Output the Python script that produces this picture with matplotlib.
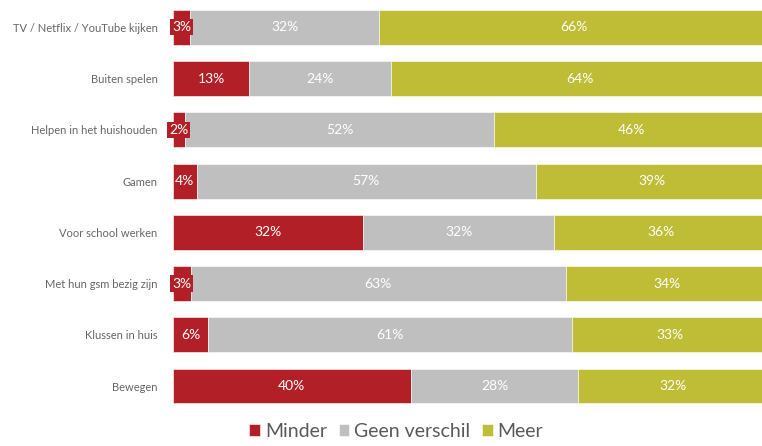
import matplotlib.pyplot as plt
import numpy as np

# data (percentages, top to bottom)
categories = ["TV / Netflix / YouTube kijken", "Buiten spelen", "Helpen in het huishouden",
              "Gamen", "Voor school werken", "Met hun gsm bezig zijn", "Klussen in huis", "Bewegen"]
minder = [3, 13, 2, 4, 32, 3, 6, 40]
geen_verschil = [32, 24, 52, 57, 32, 63, 61, 28]
meer = [66, 64, 46, 39, 36, 34, 33, 32]

series_names = ["Minder", "Geen verschil", "Meer"]
colors = ["#b31f27", "#bfbfbf", "#bfbd35"]

plt.rcParams['font.family'] = ['Lato', 'DejaVu Sans']

fig = plt.figure(figsize=(7.62, 4.46), dpi=100)
# 100% axis runs a little past the right edge of the picture, like the original
ax = fig.add_axes([0.2266, 0.077, 0.782, 0.919])

data = np.array([minder, geen_verschil, meer], dtype=float)
shares = data / data.sum(axis=0) * 100   # 100% stacked

y = np.arange(len(categories))
left = np.zeros(len(categories))
for name, vals, labels, col in zip(series_names, shares, data, colors):
    ax.barh(y, vals, left=left, height=0.68, color=col, label=name,
            edgecolor="white", linewidth=0.4)
    for yi, l, v, lab in zip(y, left, vals, labels):
        box = None
        if lab <= 3:
            box = dict(boxstyle="square,pad=0.15", facecolor=col, edgecolor="none")
        ax.text(l + v / 2, yi, f"{int(lab)}%", ha="center", va="center",
                color="white", fontsize=10, bbox=box)
    left += vals

ax.set_xlim(0, 100)
ax.set_ylim(len(categories) - 0.5, -0.5)
ax.set_yticks(y)
ax.set_yticklabels(categories, fontsize=8.0, color="#666666")
ax.tick_params(axis="y", length=0, pad=11)
ax.set_xticks([])
for s in ax.spines.values():
    s.set_visible(False)

leg = fig.legend(loc="lower center", bbox_to_anchor=(0.52, -0.025), ncol=3,
                 frameon=False, fontsize=14, handlelength=0.55, handleheight=0.55,
                 handletextpad=0.25, columnspacing=0.6)
for t in leg.get_texts():
    t.set_color("#595959")

fig.savefig("out.png", dpi=100)
